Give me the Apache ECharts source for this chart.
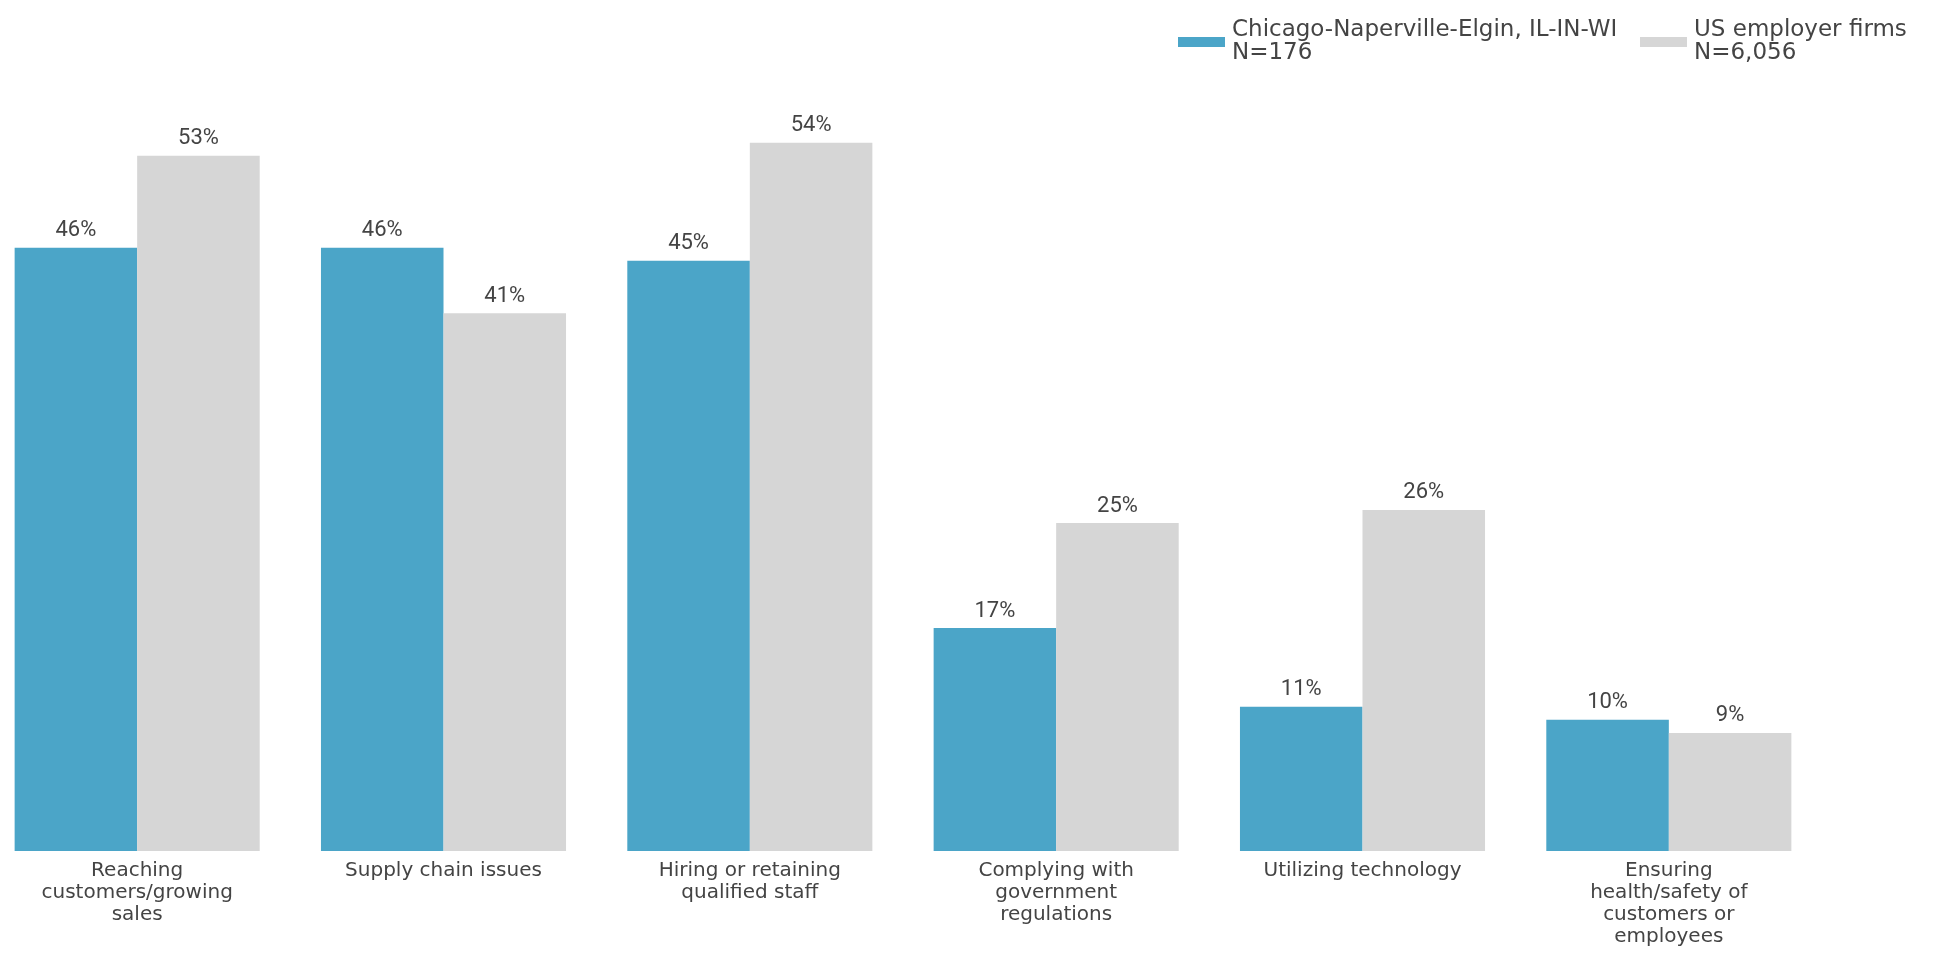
<!DOCTYPE html>
<html>
<head>
<meta charset="utf-8">
<script src="https://cdn.jsdelivr.net/npm/echarts@6/dist/echarts.min.js"></script>
<style>
  html, body { margin: 0; padding: 0; background: #fff; }
  #chart { width: 1940px; height: 957px; }
</style>
</head>
<body>
<div id="chart"></div>
<script>
const categories = [
  "Reaching\ncustomers/growing\nsales",
  "Supply chain issues",
  "Hiring or retaining\nqualified staff",
  "Complying with\ngovernment\nregulations",
  "Utilizing technology",
  "Ensuring\nhealth/safety of\ncustomers or\nemployees",
];
const seriesNames = ["Chicago-Naperville-Elgin, IL-IN-WI\nN=176", "US employer firms\nN=6,056"];
const chicagoValues = [46, 46, 45, 17, 11, 10];
const usValues = [53, 41, 54, 25, 26, 9];
const colors = ["#4ba5c8", "#d6d6d6"];

const chart = echarts.init(document.getElementById("chart"));

const textColor = "#444";

const labelStyle = {
  show: true,
  position: "top",
  distance: 6,
  formatter: "{c}%",
  color: textColor,
  fontFamily: "Roboto",
  fontSize: 22,
};

// one legend per series so each sits where it does in the original
const legendBase = {
  top: 14,
  itemWidth: 47,
  itemHeight: 10,
  icon: "rect",
  textStyle: {
    fontFamily: "DejaVu Sans",
    fontSize: 23,
    color: textColor,
    lineHeight: 23,
    padding: [0, 0, 0, 2],
  },
};

chart.setOption({
  animation: false,
  legend: [
    { ...legendBase, left: 1173, data: [seriesNames[0]] },
    { ...legendBase, left: 1635, data: [seriesNames[1]] },
  ],
  grid: {
    left: -16,
    right: 118,
    top: 64,
    bottom: 106,
    outerBoundsMode: "none",
  },
  xAxis: {
    type: "category",
    data: categories,
    axisLine: { show: false },
    axisTick: { show: false },
    axisLabel: {
      interval: 0,
      margin: 9,
      color: textColor,
      fontFamily: "DejaVu Sans",
      fontSize: 20,
      lineHeight: 22,
    },
  },
  yAxis: {
    type: "value",
    min: 0,
    max: 60,
    show: false,
    splitLine: { show: false },
  },
  series: [
    {
      name: seriesNames[0],
      type: "bar",
      data: chicagoValues,
      barGap: "0%",
      barCategoryGap: "20%",
      itemStyle: { color: colors[0] },
      label: labelStyle,
    },
    {
      name: seriesNames[1],
      type: "bar",
      data: usValues,
      itemStyle: { color: colors[1] },
      label: labelStyle,
    },
  ],
});
</script>
</body>
</html>
